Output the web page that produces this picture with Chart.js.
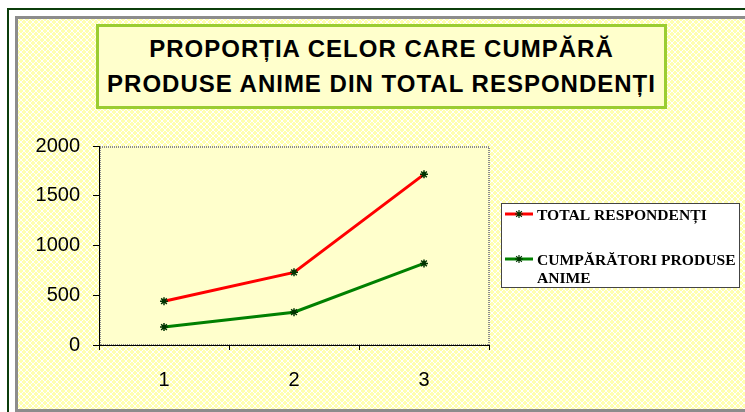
<!DOCTYPE html>
<html>
<head>
<meta charset="utf-8">
<script src="https://cdn.jsdelivr.net/npm/chart.js@4/dist/chart.umd.min.js"></script>
<style>
  html, body { margin: 0; padding: 0; width: 745px; height: 412px; overflow: hidden; background: #fff; }
  #frame1 { position: absolute; left: 7px; top: 8px; width: 800px; height: 440px; border: 2px solid #0b3d0b; background: #fff; }
  #frame2 {
    position: absolute; left: 15px; top: 16px; width: 780px; height: 396px; box-sizing: border-box;
    border: 3px solid #8c8c8c; border-right: none;
    background-color: #ffffc8;
  }
  #title {
    position: absolute; left: 96px; top: 24px; width: 571px; height: 85px; box-sizing: border-box;
    border: 3px solid #9acd32; background: #ffffcc; padding-top: 4px;
    font: bold 24px "Liberation Sans", Arial, sans-serif; line-height: 35px; letter-spacing: 1px;
    text-align: center; color: #000;
  }
  #c { position: absolute; left: 0; top: 0; }
</style>
</head>
<body>
<div id="frame1"></div>
<div id="frame2"></div>
<div id="title">PROPORȚIA CELOR CARE CUMPĂRĂ<br>PRODUSE ANIME DIN TOTAL RESPONDENȚI</div>
<canvas id="c" width="745" height="412"></canvas>
<script>
var categories = ['1', '2', '3'];
var totalRespondents = [440, 730, 1715];
var animeBuyers = [180, 330, 820];
var seriesNames = ['TOTAL RESPONDENȚI', ['CUMPĂRĂTORI PRODUSE', 'ANIME']];

// diamond lattice fill for the outer chart area (6px tile)
(function() {
  var t = document.createElement('canvas');
  t.width = 6; t.height = 6;
  var g = t.getContext('2d');
  g.fillStyle = '#ffffb0';
  g.fillRect(0, 0, 6, 6);
  g.fillStyle = '#ffffff';
  for (var i = 0; i < 6; i++) {
    g.fillRect(i, i, 1, 1);
    g.fillRect(5 - i, i, 1, 1);
  }
  document.getElementById('frame2').style.backgroundImage = 'url(' + t.toDataURL() + ')';
})();

// plot area fill + dotted border
var plotBg = {
  id: 'plotBg',
  beforeDraw: function(chart) {
    var a = chart.chartArea, ctx = chart.ctx;
    ctx.save();
    ctx.fillStyle = '#ffffcc';
    ctx.fillRect(a.left, a.top, a.right - a.left, a.bottom - a.top);
    ctx.strokeStyle = '#8c8c8c';
    ctx.lineWidth = 2;
    ctx.setLineDash([1, 1]);
    ctx.strokeRect(a.left + 1, a.top + 1, a.right - a.left - 1, a.bottom - a.top - 1);
    ctx.restore();
  }
};

// legend box on the right, with wrapped second label
var boxLegend = {
  id: 'boxLegend',
  afterDraw: function(chart) {
    var ctx = chart.ctx;
    ctx.save();
    ctx.fillStyle = '#ffffff';
    ctx.fillRect(501, 203, 239, 85);
    ctx.strokeStyle = '#444';
    ctx.lineWidth = 1;
    ctx.strokeRect(501.5, 203.5, 238, 84);
    var rows = [214, 259];
    chart.data.datasets.forEach(function(ds, i) {
      var y = rows[i];
      ctx.strokeStyle = ds.borderColor;
      ctx.lineWidth = 3;
      ctx.beginPath();
      ctx.moveTo(505, y);
      ctx.lineTo(533, y);
      ctx.stroke();
      ctx.strokeStyle = ds.pointBorderColor;
      ctx.fillStyle = 'rgba(0,0,0,0)';
      ctx.lineWidth = 1.2;
      Chart.helpers.drawPoint(ctx, { pointStyle: 'star', radius: 4, rotation: 0, borderWidth: 1.2 }, 519, y);
      ctx.fillStyle = '#000';
      ctx.font = 'bold 15.6px "Liberation Serif", "Times New Roman", serif';
      ctx.textBaseline = 'alphabetic';
      var lines = [].concat(seriesNames[i]);
      lines.forEach(function(t, k) {
        ctx.fillText(t, 537, y + 6 + k * 18);
      });
    });
    ctx.restore();
  }
};

new Chart(document.getElementById('c'), {
  type: 'line',
  data: {
    labels: categories,
    datasets: [
      {
        label: 'TOTAL RESPONDENȚI',
        data: totalRespondents,
        borderColor: '#ff0000',
        borderWidth: 3,
        pointStyle: 'star',
        pointRadius: 4,
        pointBorderColor: '#003300',
        pointBorderWidth: 1.5,
        tension: 0
      },
      {
        label: 'CUMPĂRĂTORI PRODUSE ANIME',
        data: animeBuyers,
        borderColor: '#008000',
        borderWidth: 3,
        pointStyle: 'star',
        pointRadius: 4,
        pointBorderColor: '#003300',
        pointBorderWidth: 1.5,
        tension: 0
      }
    ]
  },
  options: {
    responsive: false,
    animation: false,
    devicePixelRatio: 1,
    layout: { padding: { left: 0, right: 256, top: 146, bottom: 0 } },
    plugins: { legend: { display: false }, title: { display: false }, tooltip: { enabled: false } },
    scales: {
      x: {
        offset: true,
        grid: { offset: true, drawOnChartArea: false, drawTicks: true, tickLength: 5, color: '#000', lineWidth: 1 },
        border: { display: true, color: '#000', width: 1 },
        ticks: { color: '#000', padding: 18, font: { family: '"Liberation Sans", Arial, sans-serif', size: 20 } },
        afterFit: function(s) { s.height = 67; }
      },
      y: {
        min: 0,
        max: 2000,
        grid: { drawOnChartArea: false, drawTicks: true, tickLength: 6, color: '#000', lineWidth: 1 },
        border: { display: true, color: '#000', width: 1 },
        ticks: {
          stepSize: 500, color: '#000', padding: 13,
          font: { family: '"Liberation Sans", Arial, sans-serif', size: 20 },
          callback: function(v) { return String(v); }
        },
        afterFit: function(s) { s.width = 99; }
      }
    }
  },
  plugins: [plotBg, boxLegend]
});
</script>
</body>
</html>
